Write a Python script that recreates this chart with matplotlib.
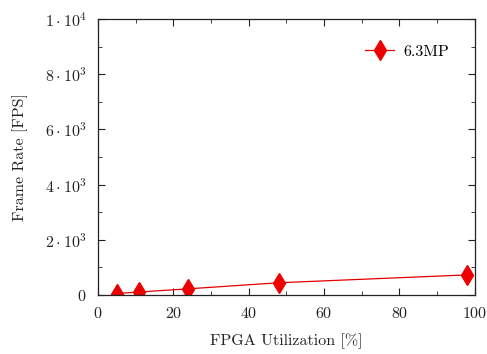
import matplotlib
matplotlib.use("Agg")
import matplotlib.pyplot as plt
from matplotlib.ticker import MultipleLocator, FuncFormatter

# data
utilization = [5, 11, 24, 48, 98]
frame_rate = [50, 105, 220, 440, 725]
series_label = "6.3MP"

plt.rcParams['font.family'] = 'serif'
plt.rcParams['font.serif'] = ['cmr10']
plt.rcParams['mathtext.fontset'] = 'cm'
plt.rcParams['axes.formatter.use_mathtext'] = True

fig, ax = plt.subplots(figsize=(4.87, 3.54), dpi=100)
fig.subplots_adjust(left=0.201, right=0.975, top=0.946, bottom=0.167)

ax.plot(utilization, frame_rate, color='#e00000', lw=0.9, marker='d',
        markersize=10, markerfacecolor='#ee0000', markeredgecolor='#ee0000',
        label=series_label)

ax.set_xlim(0, 100)
ax.set_ylim(0, 10000)
ax.xaxis.set_major_locator(MultipleLocator(20))
ax.xaxis.set_minor_locator(MultipleLocator(10))
ax.yaxis.set_major_locator(MultipleLocator(2000))
ax.yaxis.set_minor_locator(MultipleLocator(1000))


def yfmt(v, pos):
    if v == 0:
        return "$0$"
    if v >= 10000:
        return r"$1\cdot10^{4}$"
    return r"$%d\cdot10^{3}$" % int(v / 1000)


ax.yaxis.set_major_formatter(FuncFormatter(yfmt))
ax.xaxis.set_major_formatter(FuncFormatter(lambda v, p: "$%d$" % v))

ax.tick_params(which='both', direction='in', top=True, right=True,
               labelsize=11.5, colors='#222222', pad=8)
ax.tick_params(which='major', length=5)
ax.tick_params(which='minor', length=3)
for s in ax.spines.values():
    s.set_color('#222222')
    s.set_linewidth(0.9)

ax.set_xlabel("FPGA Utilization [%]", fontsize=11.5, color='#222222', labelpad=9)
ax.set_ylabel("Frame Rate [FPS]", fontsize=11.5, color='#222222', labelpad=12)

ax.legend(loc='upper right', frameon=False, fontsize=11.5, handlelength=1.8,
          handletextpad=0.6, borderaxespad=1.2, numpoints=1)

fig.savefig("out.png", dpi=100)
